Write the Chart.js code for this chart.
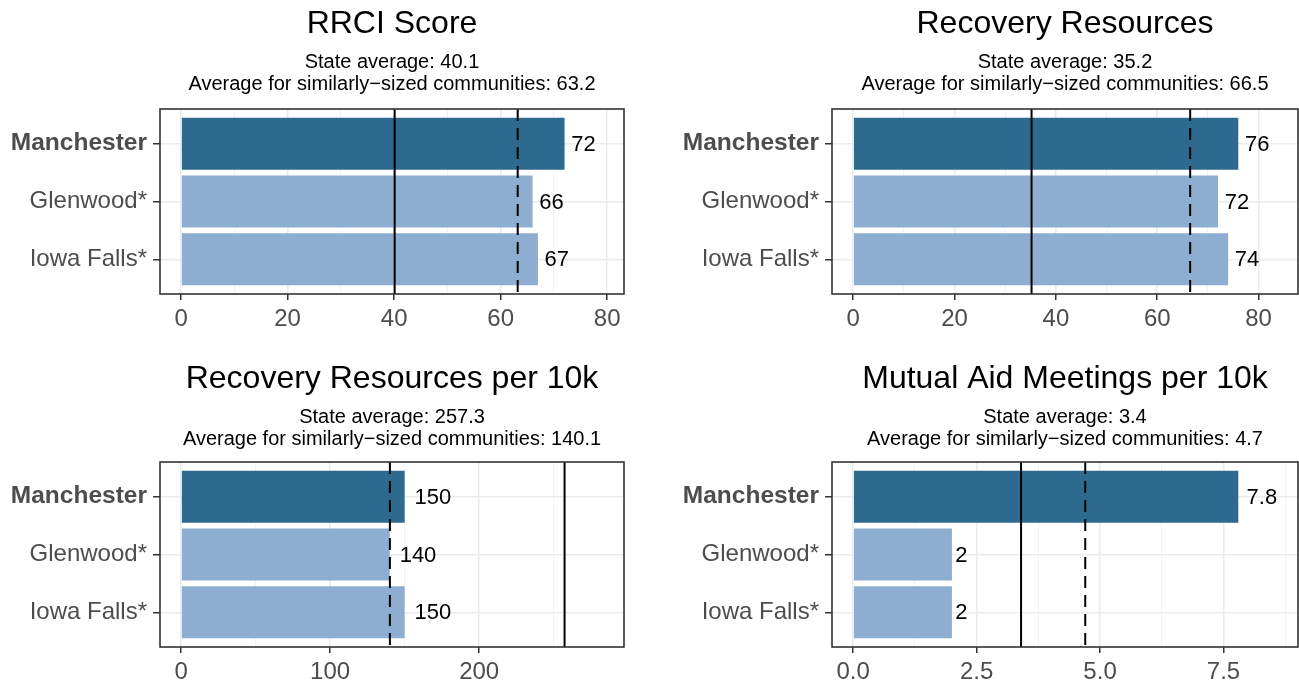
<!DOCTYPE html>
<html>
<head>
<meta charset="utf-8">
<script src="https://cdn.jsdelivr.net/npm/chart.js@4.4.1/dist/chart.umd.min.js"></script>
<style>
  html, body { margin: 0; padding: 0; background: #fff; }
  #wrap { position: relative; width: 1299px; height: 683px; overflow: hidden; }
  canvas { position: absolute; }
</style>
</head>
<body>
<div id="wrap">
  <canvas id="c1" width="640" height="355" style="left:0;top:0"></canvas>
  <canvas id="c2" width="639" height="355" style="left:660px;top:0"></canvas>
  <canvas id="c3" width="640" height="328" style="left:0;top:355px"></canvas>
  <canvas id="c4" width="639" height="328" style="left:660px;top:355px"></canvas>
</div>
<script>
// === Data ===
const communities = ['Manchester', 'Glenwood*', 'Iowa Falls*'];
const positions = [1, 2, 3];

const rrciScore = [72, 66, 67];
const recoveryResources = [76, 72, 74];
const resourcesPer10k = [150, 140, 150];
const meetingsPer10k = [7.8, 2, 2];

const panelTitles = ['RRCI Score', 'Recovery Resources', 'Recovery Resources per 10k', 'Mutual Aid Meetings per 10k'];
const stateAverages = [40.1, 35.2, 257.3, 3.4];
const similarAverages = [63.2, 66.5, 140.1, 4.7];

const majorTicks = [[0, 20, 40, 60, 80], [0, 20, 40, 60, 80], [0, 100, 200], [0, 2.5, 5, 7.5]];
const minorTicks = [[10, 30, 50, 70], [10, 30, 50, 70], [50, 150, 250], [1.25, 3.75, 6.25, 8.75]];
const tickDecimals = [0, 0, 0, 1];

const FONT = "'Liberation Sans', Arial, sans-serif";
const DARK = '#2E6A8F';
const LIGHT = '#8DAED1';
const GRID = '#EBEBEB';

// titles, reference lines, value labels, panel border
const panelDecor = {
    id: 'panelDecor',
    afterDatasetsDraw(chart, args, opts) {
        const { ctx, chartArea: a } = chart;
        const x = chart.scales.x;
        ctx.save();
        ctx.strokeStyle = '#000';
        ctx.lineWidth = 2;
        let px = x.getPixelForValue(opts.state);
        ctx.beginPath(); ctx.moveTo(px, a.top); ctx.lineTo(px, a.bottom); ctx.stroke();
        ctx.setLineDash([12, 7]);
        px = x.getPixelForValue(opts.similar);
        ctx.beginPath(); ctx.moveTo(px, a.top); ctx.lineTo(px, a.bottom); ctx.stroke();
        ctx.setLineDash([]);

        ctx.font = '22px ' + FONT;
        ctx.fillStyle = '#000';
        ctx.textAlign = 'left';
        ctx.textBaseline = 'middle';
        chart.getDatasetMeta(0).data.forEach((bar, i) => {
            const txt = String(opts.values[i]);
            const w = ctx.measureText(txt).width;
            ctx.fillText(txt, bar.x + w * 0.27, bar.y + 1);
        });
        ctx.restore();
    },
    afterDraw(chart, args, opts) {
        const { ctx, chartArea: a } = chart;
        ctx.save();
        ctx.strokeStyle = '#333333';
        ctx.lineWidth = 1.6;
        ctx.strokeRect(a.left, a.top, a.right - a.left, a.bottom - a.top);

        const cx = (a.left + a.right) / 2;
        ctx.fillStyle = '#000';
        ctx.textAlign = 'center';
        ctx.textBaseline = 'alphabetic';
        ctx.font = '32px ' + FONT;
        ctx.fillText(opts.title, cx, 33);
        ctx.font = '20px ' + FONT;
        ctx.fillText('State average: ' + opts.state, cx, 68);
        ctx.fillText('Average for similarly\u2212sized communities: ' + opts.similar, cx, 90);
        ctx.restore();
    }
};

function makePanel(id, k, values, leftWidth, rightPad, topPad, axisHeight) {
    const limit = Math.max(...values, stateAverages[k], similarAverages[k]) * 1.1;
    const majors = majorTicks[k];
    const allTicks = majors.concat(minorTicks[k]).sort((p, q) => p - q);
    const isMajor = v => majors.includes(v);

    new Chart(document.getElementById(id), {
        type: 'bar',
        data: {
            datasets: [{
                data: values.map((v, i) => ({ x: v, y: positions[i] })),
                backgroundColor: values.map((v, i) => i === 0 ? DARK : LIGHT),
                borderWidth: 0,
                categoryPercentage: 1,
                barPercentage: 0.9
            }]
        },
        options: {
            indexAxis: 'y',
            responsive: false,
            animation: false,
            layout: { padding: { top: topPad, right: rightPad, left: 0, bottom: 0 } },
            plugins: {
                legend: { display: false },
                tooltip: { enabled: false },
                panelDecor: {
                    title: panelTitles[k],
                    state: stateAverages[k],
                    similar: similarAverages[k],
                    values: values
                }
            },
            scales: {
                x: {
                    type: 'linear',
                    min: -0.05 * limit,
                    max: 1.05 * limit,
                    afterBuildTicks: s => { s.ticks = allTicks.map(v => ({ value: v })); },
                    afterFit: s => { s.height = axisHeight; },
                    border: { display: false },
                    grid: {
                        color: ctx => isMajor(ctx.tick.value) ? GRID : '#F2F2F2',
                        lineWidth: ctx => isMajor(ctx.tick.value) ? 1.5 : 0.9,
                        tickColor: ctx => isMajor(ctx.tick.value) ? '#333333' : 'rgba(0,0,0,0)',
                        tickLength: 6,
                        tickWidth: 1.5
                    },
                    ticks: {
                        autoSkip: false,
                        maxRotation: 0,
                        padding: 5,
                        color: '#4D4D4D',
                        font: { family: FONT, size: 24 },
                        callback: v => isMajor(v) ? v.toFixed(tickDecimals[k]) : ''
                    }
                },
                y: {
                    type: 'linear',
                    reverse: true,
                    offset: false,
                    min: 0.4,
                    max: 3.6,
                    afterBuildTicks: s => { s.ticks = positions.map(v => ({ value: v })); },
                    afterFit: s => { s.width = leftWidth; },
                    border: { display: false },
                    grid: {
                        offset: false,
                        color: GRID,
                        lineWidth: 1.5,
                        tickColor: '#333333',
                        tickLength: 7,
                        tickWidth: 1.5
                    },
                    ticks: {
                        padding: 6,
                        color: '#4D4D4D',
                        font: ctx => (ctx.tick && ctx.tick.value === 1)
                            ? { family: FONT, size: 24.5, weight: 'bold' }
                            : { family: FONT, size: 24, weight: 'normal' },
                        callback: v => communities[positions.indexOf(v)] || ''
                    }
                }
            }
        },
        plugins: [panelDecor]
    });
}

makePanel('c1', 0, rrciScore, 160, 16, 109, 61);
makePanel('c2', 1, recoveryResources, 172, 1, 109, 61);
makePanel('c3', 2, resourcesPer10k, 160, 16, 107, 36);
makePanel('c4', 3, meetingsPer10k, 172, 1, 107, 36);
</script>
</body>
</html>
